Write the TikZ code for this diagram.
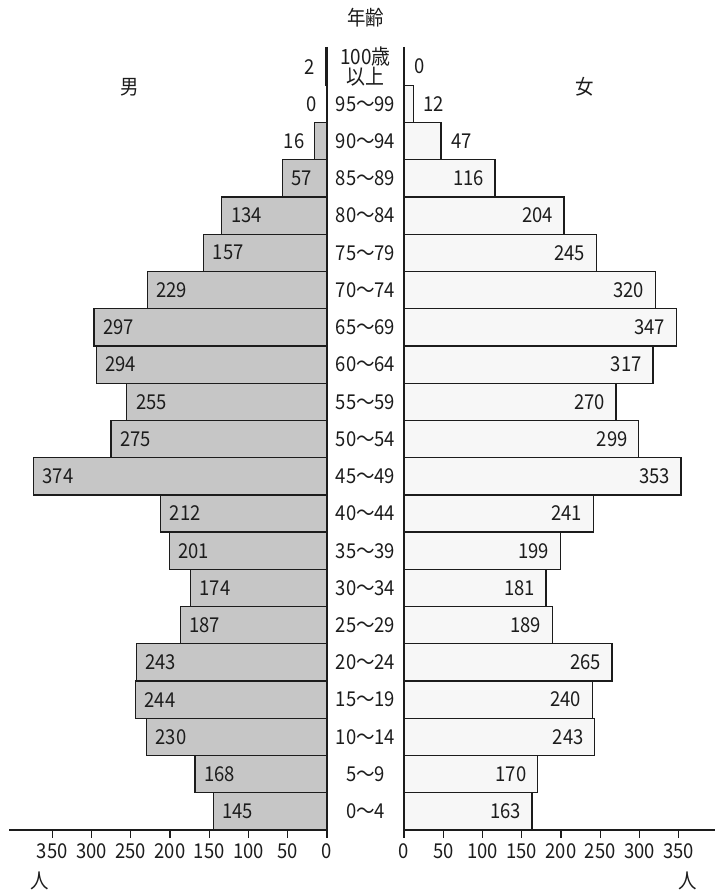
\documentclass[tikz,border=0pt]{standalone}
\usepackage{fontspec}
\setmainfont[FakeStretch=0.9]{Noto Sans CJK JP}
\usepackage{tikz}
\usetikzlibrary{positioning}
\definecolor{mgray}{RGB}{198,198,198}
\definecolor{fgray}{RGB}{247,247,247}
\definecolor{ink}{RGB}{28,28,28}
\tikzset{
  mbar/.style={fill=mgray,draw=ink,line width=1.3pt},
  fbar/.style={fill=fgray,draw=ink,line width=1.3pt},
  axis/.style={draw=ink,line width=1.4pt},
  num/.style={font=\fontsize{20.5}{22}\selectfont,text=ink,inner sep=0pt},
  small/.style={font=\fontsize{21}{18}\selectfont,text=ink,inner sep=0pt,align=center}
}

\begin{document}
\begin{tikzpicture}[x=1pt,y=-1pt]
\useasboundingbox (0,0) rectangle (715,891);

% male bars, 100+ down to 0-4
\foreach \v [count=\i from 0] in {2,0,16,57,134,157,229,297,294,255,275,374,212,201,174,187,243,244,230,168,145}{
  \pgfmathsetmacro{\yt}{48+37.24*\i}
  \pgfmathsetmacro{\xl}{327-0.785*\v}
  \ifnum\v>0 \draw[mbar] (\xl,\yt) rectangle (327,\yt+37.24); \fi
  \ifnum\v<50
    \node[num,anchor=east] (m\i) at (\xl-10,\yt+18.6) {\v};
  \else
    \node[num,anchor=west] (m\i) at (\xl+9,\yt+18.6) {\v};
  \fi
}

% female bars
\foreach \v [count=\i from 0] in {0,12,47,116,204,245,320,347,317,270,299,353,241,199,181,189,265,240,243,170,163}{
  \pgfmathsetmacro{\yt}{48+37.24*\i}
  \pgfmathsetmacro{\xr}{404+0.785*\v}
  \ifnum\v>0 \draw[fbar] (404,\yt) rectangle (\xr,\yt+37.24); \fi
  \ifnum\v<100
    \node[num,anchor=west] (f\i) at (\xr+10,\yt+18.6) {\v};
  \else
    \node[num,anchor=east] (f\i) at (\xr-11,\yt+18.6) {\v};
  \fi
}

% age classes
\node[small] (a0) at (365.5,67) {100歳\\以上};
\foreach \a [count=\i from 1] in {95～99,90～94,85～89,80～84,75～79,70～74,65～69,60～64,55～59,50～54,45～49,40～44,35～39,30～34,25～29,20～24,15～19,10～14,5～9,0～4}{
  \node[num] (a\i) at (365.5,48+37.24*\i+18.6) {\a};
}

% centre lines
\draw[axis] (327,47) -- (327,830);
\draw[axis] (404,47) -- (404,830);

% axes
\draw[axis] (9,830) -- (327,830);
\draw[axis] (404,830) -- (715,830);
\foreach \t in {0,50,...,350}{
  \draw[axis] (327-0.785*\t,830) -- ++(0,8);
  \draw[axis] (404+0.785*\t,830) -- ++(0,8);
  \node[num] (lt\t) at (327-0.785*\t,851) {\t};
  \node[num] (rt\t) at (404+0.785*\t,851) {\t};
}
\node[num] (lunit) at (40,881) {人};
\node[num] (runit) at (688,881) {人};

\node[num] (title) at (365.5,18) {年齢};
\node[num] (male) at (130,87) {男};
\node[num] (female) at (585,87) {女};
\end{tikzpicture}
\end{document}
